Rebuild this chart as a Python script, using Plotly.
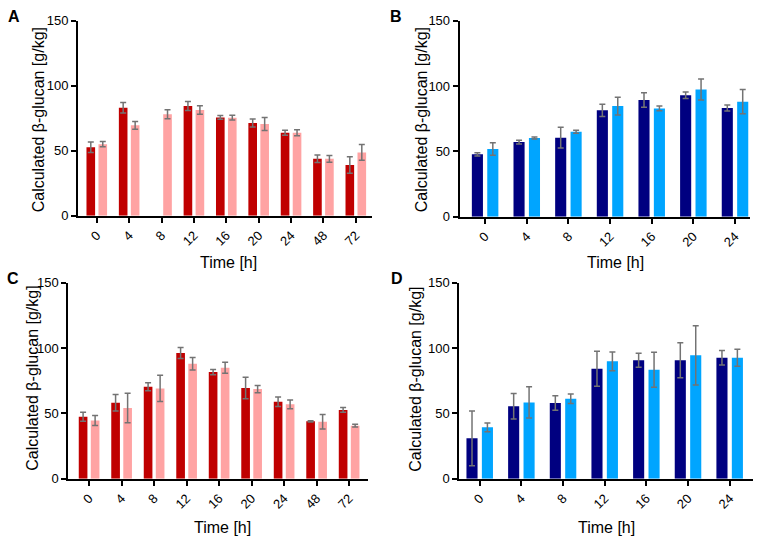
import plotly.graph_objects as go

W, H = 764, 543

# panel A / C: time points up to 72 h
times_long = ["0", "4", "8", "12", "16", "20", "24", "48", "72"]
# panel B / D: time points up to 24 h
times_short = ["0", "4", "8", "12", "16", "20", "24"]

a_dark = [52.6, 83.0, None, 84.4, 75.6, 71.3, 63.8, 43.8, 39.0]
a_dark_err = [4.0, 4.0, 0, 3.5, 1.5, 3.0, 2.0, 2.8, 6.4]
a_light = [55.0, 69.5, 78.0, 81.3, 75.4, 70.5, 63.8, 43.8, 48.7]
a_light_err = [2.0, 3.0, 3.5, 3.3, 1.8, 5.0, 2.3, 2.6, 6.0]

b_dark = [47.7, 57.1, 60.5, 81.4, 89.3, 92.9, 83.2]
b_dark_err = [1.3, 1.5, 8.0, 4.7, 5.6, 2.5, 2.3]
b_light = [51.8, 60.2, 65.0, 84.7, 82.9, 97.4, 88.0]
b_light_err = [4.8, 0.7, 1.2, 6.8, 1.8, 8.0, 9.3]

c_dark = [47.4, 58.2, 70.4, 96.2, 81.6, 69.4, 58.9, 43.9, 52.6]
c_dark_err = [3.5, 6.3, 3.0, 4.3, 2.0, 8.3, 3.6, 0.5, 1.8]
c_light = [44.6, 54.1, 69.1, 88.0, 84.9, 68.6, 56.9, 43.6, 40.6]
c_light_err = [3.8, 11.3, 10.0, 4.8, 4.2, 2.8, 3.4, 5.5, 1.0]

d_dark = [30.9, 55.4, 57.9, 84.2, 90.6, 90.6, 92.6]
d_dark_err = [21.0, 9.8, 5.6, 13.4, 5.4, 13.4, 5.6]
d_light = [39.3, 58.4, 61.2, 89.8, 83.4, 94.4, 92.6]
d_light_err = [3.3, 11.9, 3.7, 7.1, 13.4, 22.6, 6.5]

RED, PINK = "#C00000", "#FFA3A3"
NAVY, SKY = "#000080", "#00A5FF"
ERR = "#737373"
FONT = "Liberation Sans, Arial, sans-serif"

def px_x(x):
    return x / W

def px_y(y):
    return 1 - y / H

# (name, x data, series, x px span, y px span (top, bottom), x range)
panels = [
    ("A", times_long, [(a_dark, a_dark_err, RED), (a_light, a_light_err, PINK)],
     (78, 372), (20.7, 215.7), [-0.58, 8.5]),
    ("B", times_short, [(b_dark, b_dark_err, NAVY), (b_light, b_light_err, SKY)],
     (459.7, 750), (20.7, 216.7), [-0.61, 6.36]),
    ("C", times_long, [(c_dark, c_dark_err, RED), (c_light, c_light_err, PINK)],
     (68.3, 368.3), (282.7, 478.7), [-0.64, 8.59]),
    ("D", times_short, [(d_dark, d_dark_err, NAVY), (d_light, d_light_err, SKY)],
     (459.3, 753), (282.7, 478.7), [-0.49, 6.56]),
]

fig = go.Figure()
layout = {}
for i, (name, xs, series, (x0, x1), (yt, yb), xr) in enumerate(panels, start=1):
    sfx = "" if i == 1 else str(i)
    for vals, errs, col in series:
        fig.add_trace(go.Bar(
            x=xs, y=vals, marker_color=col, marker_line_width=0,
            error_y=dict(type="data", array=errs, color=ERR, thickness=1.5, width=3),
            xaxis="x" + sfx, yaxis="y" + sfx, showlegend=False,
        ))
    layout["xaxis" + sfx] = dict(
        domain=[px_x(x0), px_x(x1)], anchor="y" + sfx, type="category", range=xr,
        showline=True, linecolor="black", linewidth=2, ticks="outside",
        ticklen=5, tickwidth=2, tickcolor="black", tickangle=-45,
        tickfont=dict(size=13, color="black", family=FONT), showgrid=False,
        automargin=False,
    )
    layout["yaxis" + sfx] = dict(
        domain=[px_y(yb), px_y(yt)], anchor="x" + sfx, range=[0, 150],
        tickvals=[0, 50, 100, 150], showline=True, linecolor="black", linewidth=2,
        ticks="outside", ticklen=5, tickwidth=2, tickcolor="black",
        tickfont=dict(size=13, color="black", family=FONT), showgrid=False,
        zeroline=False, automargin=False,
    )

fig.update_layout(**layout)

# axis titles and panel letters placed in pixel terms
ytitles = [(38.3, 120), (421.3, 120), (31.7, 378), (415.3, 379.5)]
xtitles = [(228, 262), (615.3, 262), (222.7, 527), (606, 527)]
letters = [("A", 14, 16), ("B", 396, 16), ("C", 13, 278), ("D", 397, 278)]

ann = []
for x, y in ytitles:
    ann.append(dict(text="Calculated β-glucan [g/kg]", textangle=-90,
                    x=px_x(x), y=px_y(y), font_size=16))
for x, y in xtitles:
    ann.append(dict(text="Time [h]", x=px_x(x), y=px_y(y), font_size=16))
for t, x, y in letters:
    ann.append(dict(text="<b>" + t + "</b>", x=px_x(x), y=px_y(y), font_size=16))
for a in ann:
    a.update(xref="paper", yref="paper", xanchor="center", yanchor="middle",
             showarrow=False)
    a["font"] = dict(size=a.pop("font_size"), color="black", family=FONT)

fig.update_layout(
    width=W, height=H, margin=dict(l=0, r=0, t=0, b=0, autoexpand=False),
    paper_bgcolor="white", plot_bgcolor="white",
    barmode="group", bargap=0.26, bargroupgap=0.28,
    annotations=ann,
)

# drop the default page margin so the figure sits at the window's corner
fig.write_html("out.html", config={"displayModeBar": False},
               post_script="document.body.style.margin='0';")
